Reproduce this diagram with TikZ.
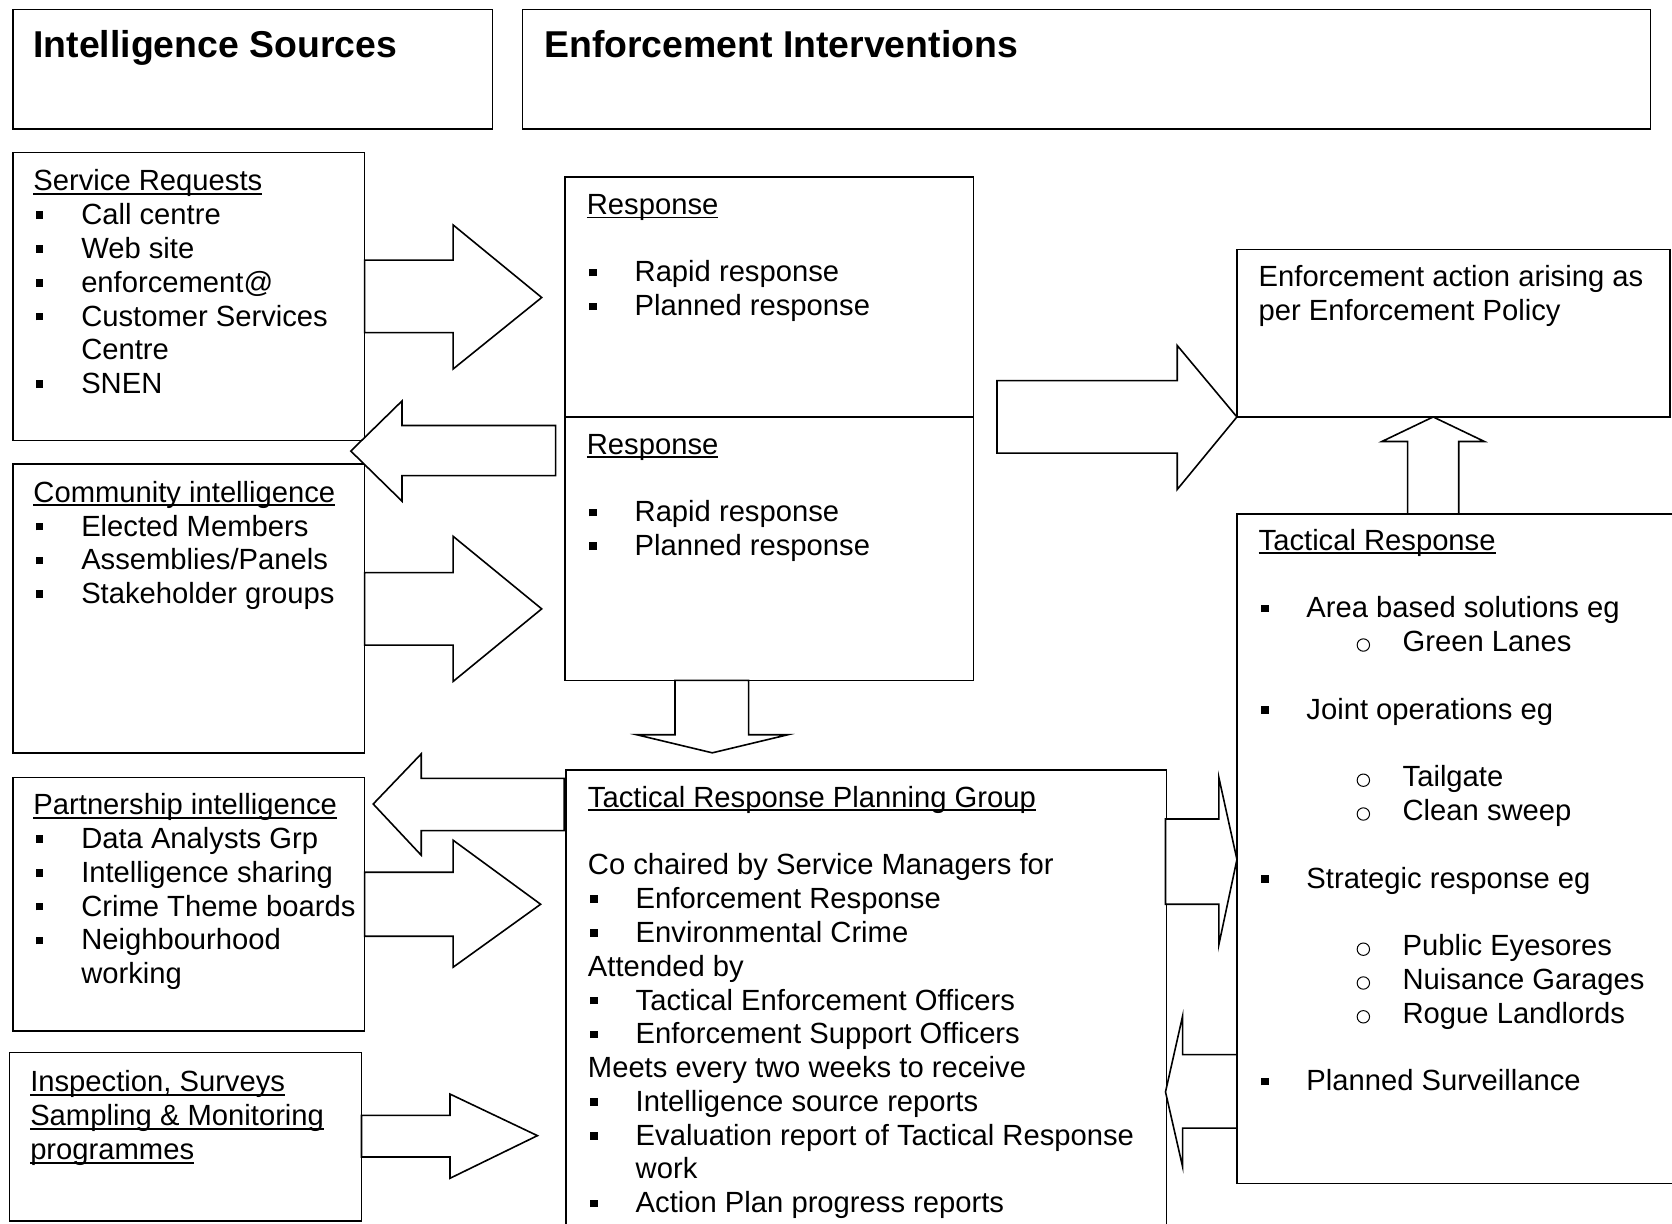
\documentclass[tikz,border=0pt]{standalone}
\usepackage{fontspec}
\setmainfont{Liberation Sans}
\newcommand\myul[1]{\leavevmode\setbox0\hbox{#1}\rlap{\rule[-2.0pt]{\wd0}{0.9pt}}\box0}
\newcommand\sqb{\makebox[23.9pt][l]{\hspace{1.2pt}\rule[2.8pt]{3.8pt}{3.8pt}}}
\newcommand\cont{\hspace*{23.9pt}}
\newcommand\subb{\hspace*{49pt}\makebox[23pt][l]{\tikz[baseline=0pt]\draw[line width=0.5pt] (3.2pt,3.3pt) circle (3.1pt);}}
\tikzset{
  bx/.style={draw=black, line width=0.8pt},
  barrow/.style={draw=black, line width=0.8pt, fill=white, line join=miter},
  tb/.style={anchor=base west, inner sep=0pt, font=\fontsize{14.6pt}{16.9pt}\selectfont},
  ttl/.style={anchor=base west, inner sep=0pt, font=\fontsize{18.7pt}{22pt}\selectfont\bfseries}
}
\begin{document}
\begin{tikzpicture}[x=0.5332pt, y=-0.5332pt]
\useasboundingbox (0,0) rectangle (1568,1147);
\fill[white] (0,0) rectangle (1568,1147);

% header boxes
\draw[bx] (12,9) rectangle (462,121);
\draw[bx] (490,9) rectangle (1548,121);

% source boxes
\draw[bx] (12,143) rectangle (342,413);
\draw[bx] (12,435) rectangle (342,706);
\draw[bx] (12,729) rectangle (342,967);
\draw[bx] (9,987) rectangle (339,1145);

% response boxes
\draw[bx] (530,166) rectangle (913,391);
\draw[bx] (530,391) rectangle (913,638);

% planning group
\draw[bx] (531,722) rectangle (1094,1160);

% enforcement action / tactical response
\draw[bx] (1160,234) rectangle (1566,391);
\draw[bx] (1160,482) rectangle (1580,1110);

% block arrows
\draw[barrow] (342,244) -- (425,244) -- (425,211) -- (508,279) -- (425,346) -- (425,312) -- (342,312) -- cycle;
\draw[barrow] (521,399) -- (377,399) -- (377,376) -- (329,423) -- (377,470) -- (377,446) -- (521,446) -- cycle;
\draw[barrow] (342,537) -- (425,537) -- (425,503) -- (508,571) -- (425,639) -- (425,605) -- (342,605) -- cycle;
\draw[barrow] (633,638) -- (633,689) -- (597,689) -- (668,706) -- (739,689) -- (702,689) -- (702,638) -- cycle;
\draw[barrow] (529,730) -- (395,730) -- (395,707) -- (350,754) -- (395,802) -- (395,779) -- (529,779) -- cycle;
\draw[barrow] (342,818) -- (425,818) -- (425,788) -- (507,848) -- (425,907) -- (425,878) -- (342,878) -- cycle;
\draw[barrow] (339,1046) -- (422,1046) -- (422,1026) -- (504,1065) -- (422,1105) -- (422,1085) -- (339,1085) -- cycle;
\draw[barrow] (935,357) -- (1104,357) -- (1104,324) -- (1160,391) -- (1104,459) -- (1104,425) -- (935,425) -- cycle;
\draw[barrow] (1320,482) -- (1320,414) -- (1296,414) -- (1344,391) -- (1392,414) -- (1368,414) -- (1368,482) -- cycle;
\draw[barrow] (1093,768) -- (1143,768) -- (1143,729) -- (1160,806) -- (1143,886) -- (1143,848) -- (1093,848) -- cycle;
\draw[barrow] (1160,989) -- (1109,989) -- (1109,953) -- (1093,1024) -- (1109,1094) -- (1109,1058) -- (1160,1058) -- cycle;

% titles
\node[ttl] (t1) at (31,54) {Intelligence Sources};
\node[ttl] (t2) at (510,54) {Enforcement Interventions};

% texts
\node[tb] (srtext) at (31,179) {\parbox[t]{400pt}{\raggedright
\myul{Service Requests}\\
\sqb Call centre\\
\sqb Web site\\
\sqb enforcement@\\
\sqb Customer Services\\
\cont Centre\\
\sqb SNEN}};

\node[tb] (citext) at (31,471) {\parbox[t]{400pt}{\raggedright
\myul{Community intelligence}\\
\sqb Elected Members\\
\sqb Assemblies/Panels\\
\sqb Stakeholder groups}};

\node[tb] (pitext) at (31,764) {\parbox[t]{400pt}{\raggedright
\myul{Partnership intelligence}\\
\sqb Data Analysts Grp\\
\sqb Intelligence sharing\\
\sqb Crime Theme boards\\
\sqb Neighbourhood\\
\cont working}};

\node[tb] (istext) at (28,1024) {\parbox[t]{400pt}{\raggedright
\myul{Inspection, Surveys}\\
\myul{Sampling \& Monitoring}\\
\myul{programmes}}};

\node[tb] (r1text) at (550,201) {\parbox[t]{400pt}{\raggedright
\myul{Response}\\
\mbox{}\\
\sqb Rapid response\\
\sqb Planned response}};

\node[tb] (r2text) at (550,426) {\parbox[t]{400pt}{\raggedright
\myul{Response}\\
\mbox{}\\
\sqb Rapid response\\
\sqb Planned response}};

\node[tb] (pgtext) at (551,757) {\parbox[t]{400pt}{\raggedright
\myul{Tactical Response Planning Group}\\
\mbox{}\\
Co chaired by Service Managers for\\
\sqb Enforcement Response\\
\sqb Environmental Crime\\
Attended by\\
\sqb Tactical Enforcement Officers\\
\sqb Enforcement Support Officers\\
Meets every two weeks to receive\\
\sqb Intelligence source reports\\
\sqb Evaluation report of Tactical Response\\
\cont work\\
\sqb Action Plan progress reports}};

\node[tb] (eatext) at (1180,269) {\parbox[t]{400pt}{\raggedright
Enforcement action arising as\\
per Enforcement Policy}};

\node[tb] (trtext) at (1180,516) {\parbox[t]{400pt}{\raggedright
\myul{Tactical Response}\\
\mbox{}\\
\sqb Area based solutions eg\\
\subb Green Lanes\\
\mbox{}\\
\sqb Joint operations eg\\
\mbox{}\\
\subb Tailgate\\
\subb Clean sweep\\
\mbox{}\\
\sqb Strategic response eg\\
\mbox{}\\
\subb Public Eyesores\\
\subb Nuisance Garages\\
\subb Rogue Landlords\\
\mbox{}\\
\sqb Planned Surveillance}};
\end{tikzpicture}
\end{document}
